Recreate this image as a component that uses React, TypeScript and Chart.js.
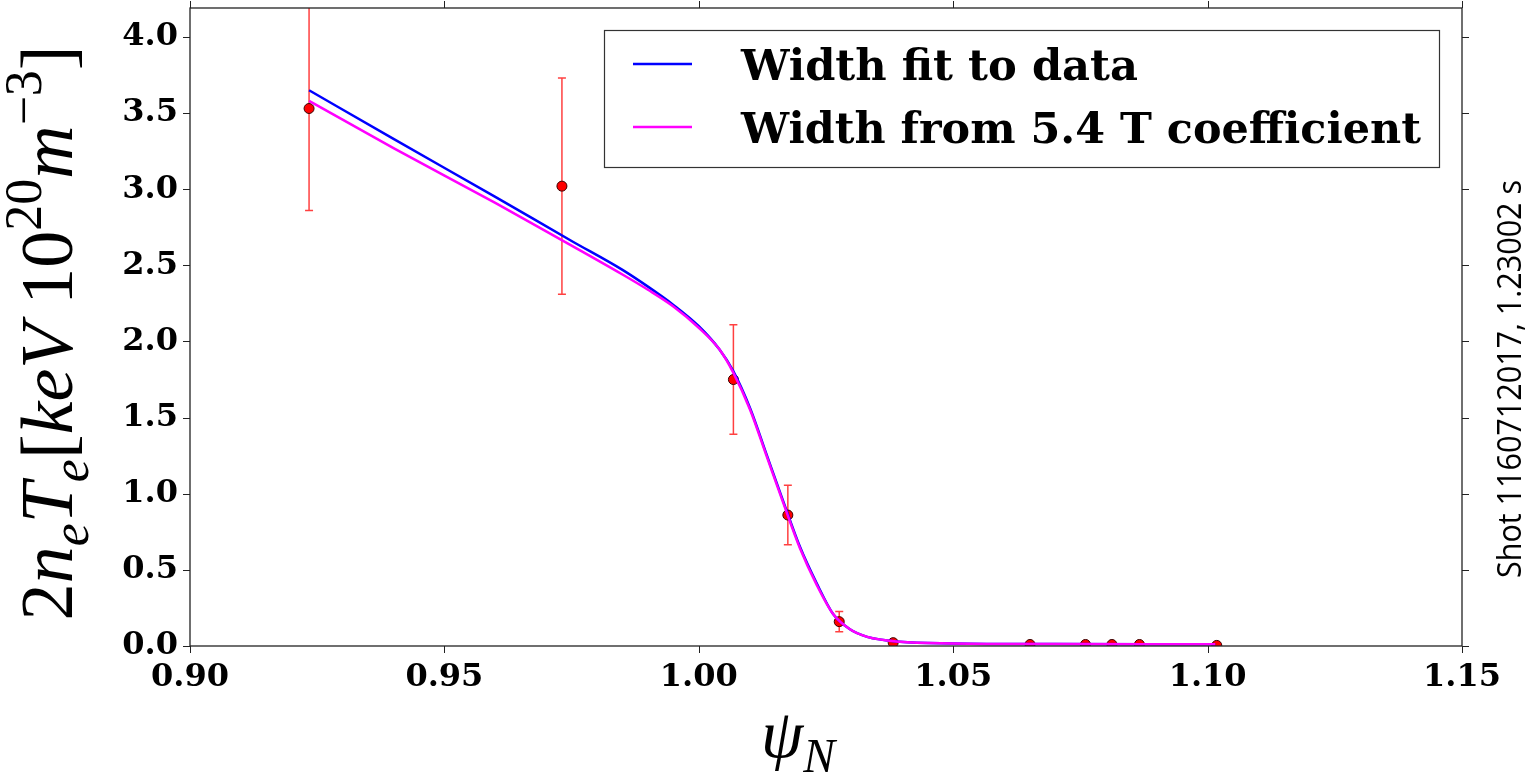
import React, { useEffect, useRef } from "react";
import { Chart, registerables } from "chart.js";

Chart.register(...registerables);

// ---------- data ----------
const pointX = [0.9234, 0.9731, 1.0068, 1.0175, 1.0276, 1.0382, 1.0651, 1.076, 1.0812, 1.0866, 1.1018];
const pointY = [3.53, 3.02, 1.75, 0.86, 0.16, 0.022, 0.01, 0.01, 0.01, 0.01, 0.004];
const pointErr = [0.67, 0.71, 0.36, 0.195, 0.066, 0.006, 0.003, 0.003, 0.003, 0.003, 0.002];

const fitX = [0.9234, 0.94, 0.96, 0.975, 0.985, 0.99, 0.995, 1.0, 1.004, 1.0067, 1.0101, 1.0134, 1.0166, 1.0199, 1.0232, 1.0264, 1.0297, 1.0331, 1.0395, 1.05, 1.07, 1.1015];
const fitDataY = [3.65, 3.33, 2.95, 2.66, 2.47, 2.36, 2.24, 2.1, 1.95, 1.81, 1.56, 1.25, 0.95, 0.65, 0.41, 0.21, 0.11, 0.06, 0.028, 0.017, 0.013, 0.012];
const fitCoefY = [3.58, 3.27, 2.91, 2.63, 2.44, 2.34, 2.23, 2.09, 1.95, 1.8, 1.55, 1.24, 0.94, 0.64, 0.4, 0.21, 0.11, 0.06, 0.028, 0.017, 0.013, 0.012];

const seriesLabels = ["Width fit to data", "Width from 5.4 T coefficient"];
const seriesColors = ["#0000ff", "#ff00ff"];
const xRange = [0.9, 1.15];
const yRange = [0, 4.19];
const xStep = 0.05;
const yStep = 0.5;
const sideNote = "Shot 1160712017, 1.23002 s";

type Seg = { t: string; it?: boolean; lvl?: number };
const yTitleSegs: Seg[] = [
  { t: "2" },
  { t: "n", it: true },
  { t: "e", it: true, lvl: -1 },
  { t: "T", it: true },
  { t: "e", it: true, lvl: -1 },
  { t: "[" },
  { t: "keV", it: true },
  { t: " " },
  { t: "10" },
  { t: "20", lvl: 1 },
  { t: "m", it: true },
  { t: "\u22123", lvl: 1 },
  { t: "]" },
];
const xTitleSegs: Seg[] = [
  { t: "\u03c8", it: true },
  { t: "N", it: true, lvl: -1 },
];

const MATH_FONT = "'Liberation Serif', 'DejaVu Serif', serif";
const TICK_FONT = "'DejaVu Serif', serif";

function segFont(s: Seg, size: number) {
  const sz = s.lvl ? size * 0.7 : size;
  return `${s.it ? "italic " : ""}${sz}px ${MATH_FONT}`;
}
function segsWidth(ctx: CanvasRenderingContext2D, segs: Seg[], size: number) {
  let w = 0;
  for (const s of segs) {
    ctx.font = segFont(s, size);
    w += ctx.measureText(s.t).width;
  }
  return w;
}
function drawSegs(ctx: CanvasRenderingContext2D, segs: Seg[], size: number, x0: number) {
  let x = x0;
  for (const s of segs) {
    ctx.font = segFont(s, size);
    const dy = s.lvl === -1 ? size * 0.22 : s.lvl === 1 ? -size * 0.42 : 0;
    ctx.fillText(s.t, x, dy);
    x += ctx.measureText(s.t).width;
  }
}
function fitText(ctx: CanvasRenderingContext2D, text: string, x: number, y: number, target: number) {
  const w = ctx.measureText(text).width;
  ctx.save();
  ctx.translate(x, y);
  ctx.scale(target / w, 1);
  ctx.fillText(text, 0, 0);
  ctx.restore();
}

const decorPlugin = {
  id: "decor",
  beforeDatasetsDraw(chart: any) {
    const { ctx, chartArea: a, scales } = chart;
    const xs = scales.x;
    const ys = scales.y;
    ctx.save();
    ctx.beginPath();
    ctx.rect(a.left, a.top, a.right - a.left, a.bottom - a.top);
    ctx.clip();
    ctx.strokeStyle = "rgba(255,0,0,0.75)";
    ctx.lineWidth = 1.5;
    pointX.forEach((vx, i) => {
      const px = xs.getPixelForValue(vx);
      const top = ys.getPixelForValue(pointY[i] + pointErr[i]);
      const bot = ys.getPixelForValue(pointY[i] - pointErr[i]);
      ctx.beginPath();
      ctx.moveTo(px, top);
      ctx.lineTo(px, bot);
      ctx.moveTo(px - 4, top);
      ctx.lineTo(px + 4, top);
      ctx.moveTo(px - 4, bot);
      ctx.lineTo(px + 4, bot);
      ctx.stroke();
    });
    ctx.restore();
  },
  afterDraw(chart: any) {
    const { ctx, chartArea: a, scales } = chart;
    const xs = scales.x;
    const ys = scales.y;
    ctx.save();
    // frame
    ctx.strokeStyle = "#222";
    ctx.lineWidth = 1.3;
    ctx.strokeRect(a.left, a.top, a.right - a.left, a.bottom - a.top);
    // outward ticks on all sides
    ctx.beginPath();
    xs.ticks.forEach((t: any) => {
      const px = Math.round(xs.getPixelForValue(t.value)) + 0.5;
      ctx.moveTo(px, a.bottom);
      ctx.lineTo(px, a.bottom + 7);
      ctx.moveTo(px, a.top);
      ctx.lineTo(px, a.top - 7);
    });
    ys.ticks.forEach((t: any) => {
      const py = Math.round(ys.getPixelForValue(t.value)) + 0.5;
      ctx.moveTo(a.left, py);
      ctx.lineTo(a.left - 7, py);
      ctx.moveTo(a.right, py);
      ctx.lineTo(a.right + 7, py);
    });
    ctx.lineWidth = 1;
    ctx.stroke();

    ctx.fillStyle = "#000";
    ctx.textBaseline = "alphabetic";
    ctx.textAlign = "left";

    // y title (rotated)
    {
      let size = 56;
      const w0 = segsWidth(ctx, yTitleSegs, size);
      size = (size * 575) / w0;
      const w = segsWidth(ctx, yTitleSegs, size);
      ctx.save();
      ctx.translate(72, (a.top + a.bottom) / 2 + 6);
      ctx.rotate(-Math.PI / 2);
      drawSegs(ctx, yTitleSegs, size, -w / 2);
      ctx.restore();
    }
    // x title
    {
      const size = 68;
      const w = segsWidth(ctx, xTitleSegs, size);
      ctx.save();
      ctx.translate(798, 757);
      drawSegs(ctx, xTitleSegs, size, -w / 2);
      ctx.restore();
    }
    // side note
    {
      ctx.save();
      ctx.font = "33px 'Open Sans', sans-serif";
      ctx.translate(1521, 578);
      ctx.rotate(-Math.PI / 2);
      fitText(ctx, sideNote, 0, 0, 398);
      ctx.restore();
    }
    // legend
    {
      const lx = 604, ly = 30, lw = 835, lh = 137;
      ctx.fillStyle = "#fff";
      ctx.fillRect(lx, ly, lw, lh);
      ctx.strokeStyle = "#333";
      ctx.lineWidth = 1.2;
      ctx.strokeRect(lx + 0.5, ly + 0.5, lw, lh);
      const rowsY = [64, 127];
      const widths = [397, 680];
      chart.data.datasets.slice(0, 2).forEach((ds: any, i: number) => {
        ctx.strokeStyle = ds.borderColor;
        ctx.lineWidth = 2.5;
        ctx.beginPath();
        ctx.moveTo(633, rowsY[i]);
        ctx.lineTo(692, rowsY[i]);
        ctx.stroke();
        ctx.fillStyle = "#000";
        ctx.font = `bold 42px ${TICK_FONT}`;
        fitText(ctx, ds.label, 741, rowsY[i] + 16, widths[i]);
      });
    }
    ctx.restore();
  },
};

export default function App() {
  const ref = useRef<HTMLCanvasElement>(null);
  useEffect(() => {
    const canvas = ref.current!;
    const chart = new Chart(canvas, {
      type: "scatter",
      data: {
        datasets: [
          {
            label: seriesLabels[0],
            data: fitX.map((x, i) => ({ x, y: fitDataY[i] })),
            showLine: true,
            borderColor: seriesColors[0],
            backgroundColor: seriesColors[0],
            borderWidth: 2.5,
            pointRadius: 0,
            cubicInterpolationMode: "monotone",
            order: 2,
          },
          {
            label: seriesLabels[1],
            data: fitX.map((x, i) => ({ x, y: fitCoefY[i] })),
            showLine: true,
            borderColor: seriesColors[1],
            backgroundColor: seriesColors[1],
            borderWidth: 2.5,
            pointRadius: 0,
            cubicInterpolationMode: "monotone",
            order: 1,
          },
          {
            label: "data",
            data: pointX.map((x, i) => ({ x, y: pointY[i] })),
            showLine: false,
            backgroundColor: "#ff0000",
            borderColor: "#3a0000",
            borderWidth: 1,
            pointRadius: 5,
            clip: 0,
            order: 3,
          } as any,
        ],
      },
      options: {
        animation: false,
        responsive: false,
        events: [],
        layout: { padding: { top: 8, right: 67, left: 0, bottom: 0 } },
        plugins: { legend: { display: false }, tooltip: { enabled: false } },
        scales: {
          x: {
            type: "linear",
            min: xRange[0],
            max: xRange[1],
            grid: { display: false, drawTicks: false },
            border: { display: false },
            ticks: {
              stepSize: xStep,
              includeBounds: false,
              padding: 12,
              color: "#000",
              font: { family: TICK_FONT, size: 32, weight: "bold" },
              maxRotation: 0,
              autoSkip: false,
              callback: (v: any) => Number(v).toFixed(2),
            },
            afterFit: (s: any) => {
              s.height = 127;
              s.paddingLeft = 0;
              s.paddingRight = 0;
            },
          },
          y: {
            type: "linear",
            min: yRange[0],
            max: yRange[1],
            grid: { display: false, drawTicks: false },
            border: { display: false },
            ticks: {
              stepSize: yStep,
              includeBounds: false,
              padding: 12,
              color: "#000",
              font: { family: TICK_FONT, size: 32, weight: "bold" },
              autoSkip: false,
              callback: (v: any) => Number(v).toFixed(1),
            },
            afterFit: (s: any) => {
              s.width = 190;
              s.paddingTop = 0;
              s.paddingBottom = 0;
            },
          },
        },
      },
      plugins: [decorPlugin],
    } as any);
    return () => chart.destroy();
  }, []);
  return (
    <div style={{ position: "fixed", left: 0, top: 0, width: 1529, height: 773, background: "#fff" }}>
      <canvas ref={ref} width={1529} height={773} style={{ width: 1529, height: 773, display: "block" }} />
    </div>
  );
}
